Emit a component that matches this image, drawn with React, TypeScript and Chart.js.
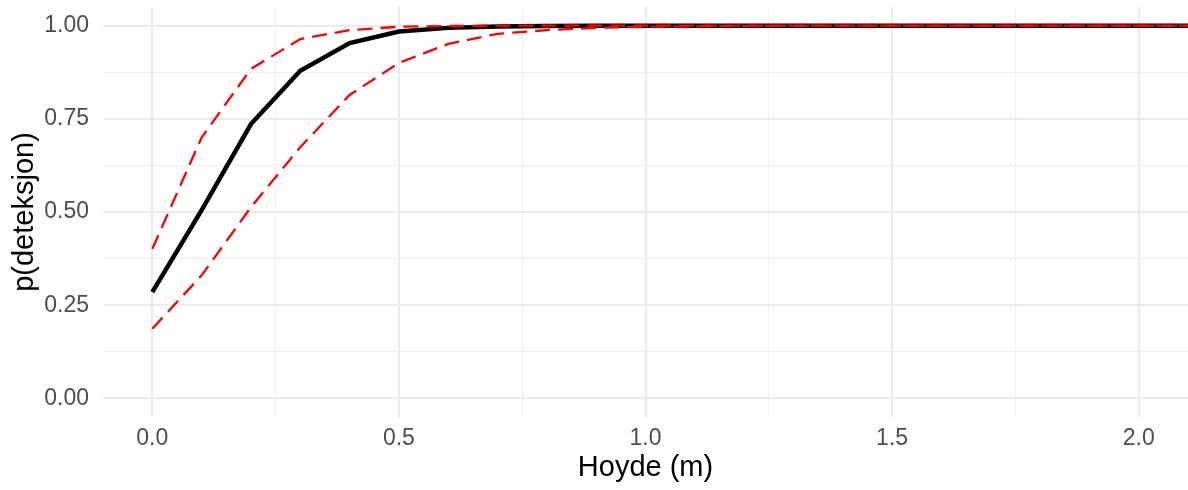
import React, { useEffect, useRef } from "react";
import { Chart, registerables } from "chart.js";

Chart.register(...registerables);

const heights = [0, 0.1, 0.2, 0.3, 0.4, 0.5, 0.6, 0.7, 0.8, 0.9, 1.0, 1.1, 1.2, 1.3, 1.4, 1.5, 1.6, 1.7, 1.8, 1.9, 2.0, 2.1];
const fitted = [0.285, 0.505, 0.736, 0.879, 0.953, 0.984, 0.994, 0.998, 0.999, 1, 1, 1, 1, 1, 1, 1, 1, 1, 1, 1, 1, 1];
const upper = [0.401, 0.70, 0.884, 0.964, 0.988, 0.997, 0.999, 1, 1, 1, 1, 1, 1, 1, 1, 1, 1, 1, 1, 1, 1, 1];
const lower = [0.187, 0.33, 0.513, 0.674, 0.814, 0.900, 0.951, 0.978, 0.988, 0.994, 0.997, 0.998, 0.999, 1, 1, 1, 1, 1, 1, 1, 1, 1];

const xTicks = [0, 0.25, 0.5, 0.75, 1.0, 1.25, 1.5, 1.75, 2.0];
const yTicks = [0, 0.125, 0.25, 0.375, 0.5, 0.625, 0.75, 0.875, 1.0];
const xMajor = [0, 0.5, 1.0, 1.5, 2.0];
const yMajor = [0, 0.25, 0.5, 0.75, 1.0];

const isIn = (arr: number[], v: number) => arr.some((a) => Math.abs(a - v) < 1e-9);

export default function App() {
  const ref = useRef<HTMLCanvasElement | null>(null);
  useEffect(() => {
    document.body.style.margin = "0";
    if (!ref.current) return;
    const pts = (ys: number[]) => heights.map((x, i) => ({ x, y: ys[i] }));
    const font = "'Liberation Sans', Arial, sans-serif";
    const chart = new Chart(ref.current, {
      type: "line",
      data: {
        datasets: [
          {
            label: "upper",
            data: pts(upper),
            borderColor: "#FF0000",
            borderWidth: 2.3,
            borderDash: [15, 8],
            pointRadius: 0,
            tension: 0,
          },
          {
            label: "lower",
            data: pts(lower),
            borderColor: "#FF0000",
            borderWidth: 2.3,
            borderDash: [15, 8],
            pointRadius: 0,
            tension: 0,
          },
          {
            label: "fit",
            data: pts(fitted),
            borderColor: "#000000",
            borderWidth: 4.5,
            pointRadius: 0,
            tension: 0,
          },
        ],
      },
      options: {
        animation: false,
        responsive: false,
        maintainAspectRatio: false,
        layout: { padding: { top: 7, right: 0, left: 0, bottom: 0 } },
        plugins: { legend: { display: false }, tooltip: { enabled: false } },
        scales: {
          x: {
            type: "linear",
            min: -0.1,
            max: 2.1,
            border: { display: false },
            afterBuildTicks: (s: any) => {
              s.ticks = xTicks.map((v) => ({ value: v }));
            },
            afterFit: (s: any) => {
              s.height = 73;
              s.paddingLeft = 0;
              s.paddingRight = 0;
            },
            grid: {
              drawTicks: false,
              color: (c: any) => (c.tick && isIn(xMajor, c.tick.value) ? "#EBEBEB" : "#F0F0F0"),
              lineWidth: (c: any) => (c.tick && isIn(xMajor, c.tick.value) ? 2 : 1.1),
            },
            ticks: {
              autoSkip: false,
              maxRotation: 0,
              padding: 8,
              color: "#4D4D4D",
              font: { family: font, size: 23 },
              callback: (v: any) => (isIn(xMajor, Number(v)) ? Number(v).toFixed(1) : ""),
            },
            title: {
              display: true,
              text: "Hoyde (m)",
              color: "#000000",
              font: { family: font, size: 29 },
              padding: { top: 0, bottom: 5 },
            },
          },
          y: {
            type: "linear",
            min: -0.05,
            max: 1.05,
            border: { display: false },
            afterBuildTicks: (s: any) => {
              s.ticks = yTicks.map((v) => ({ value: v }));
            },
            afterFit: (s: any) => {
              s.width = 103;
              s.paddingTop = 0;
              s.paddingBottom = 0;
            },
            grid: {
              drawTicks: false,
              color: (c: any) => (c.tick && isIn(yMajor, c.tick.value) ? "#EBEBEB" : "#F0F0F0"),
              lineWidth: (c: any) => (c.tick && isIn(yMajor, c.tick.value) ? 2 : 1.1),
            },
            ticks: {
              autoSkip: false,
              padding: 14,
              color: "#4D4D4D",
              font: { family: font, size: 23 },
              callback: (v: any) => (isIn(yMajor, Number(v)) ? Number(v).toFixed(2) : ""),
            },
            title: {
              display: true,
              text: "p(deteksjon)",
              color: "#000000",
              font: { family: font, size: 29 },
              padding: { top: 8, bottom: 0 },
            },
          },
        },
      },
    });
    return () => chart.destroy();
  }, []);
  return (
    <div style={{ position: "absolute", left: 0, top: 0, width: 1188, height: 490, background: "#FFFFFF" }}>
      <canvas ref={ref} width={1188} height={490} style={{ width: 1188, height: 490, display: "block" }} />
    </div>
  );
}
